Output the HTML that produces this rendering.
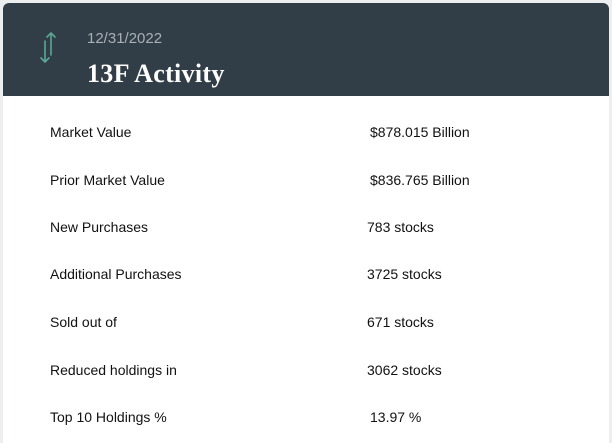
<!DOCTYPE html>
<html><head><style>
body{margin:0;width:612px;height:443px;background:#eceef0;overflow:hidden;font-family:"Liberation Sans",sans-serif;}
.card{position:absolute;left:3px;top:3px;width:606px;height:440px;background:#fff;border-radius:6px 6px 0 0;overflow:hidden;}
.hd{height:93px;background:#323e47;position:relative;}
.date{position:absolute;left:84px;top:27px;color:#a7b0b6;font-size:15px;}
.title{position:absolute;left:84px;top:56px;color:#fff;font-size:26px;font-weight:bold;font-family:"Liberation Serif",serif;letter-spacing:0.3px;}
.row{position:absolute;left:50px;font-size:14px;color:#111;}
.val{position:absolute;font-size:14px;color:#111;}
</style></head><body>
<div class="card">
<div class="hd">
<svg style="position:absolute;left:35px;top:28px" width="20" height="34" viewBox="0 0 20 34">
<g stroke="#5aa894" stroke-width="1.6" fill="none" stroke-linecap="round">
<path d="M13 2 V24 M9 6 L13 2 L17 6"/>
<path d="M7 10 V31 M3 27 L7 31 L11 27"/>
</g></svg>
<div class="date">12/31/2022</div>
<div class="title">13F Activity</div>
</div>
</div>
<div class="row" style="top:124px">Market Value</div><div class="val" style="left:370px;top:124px">$878.015 Billion</div>
<div class="row" style="top:172px">Prior Market Value</div><div class="val" style="left:370px;top:172px">$836.765 Billion</div>
<div class="row" style="top:219px">New Purchases</div><div class="val" style="left:367px;top:219px">783 stocks</div>
<div class="row" style="top:266px">Additional Purchases</div><div class="val" style="left:367px;top:266px">3725 stocks</div>
<div class="row" style="top:314px">Sold out of</div><div class="val" style="left:367px;top:314px">671 stocks</div>
<div class="row" style="top:362px">Reduced holdings in</div><div class="val" style="left:367px;top:362px">3062 stocks</div>
<div class="row" style="top:409px">Top 10 Holdings %</div><div class="val" style="left:370px;top:409px">13.97 %</div>
</body></html>
